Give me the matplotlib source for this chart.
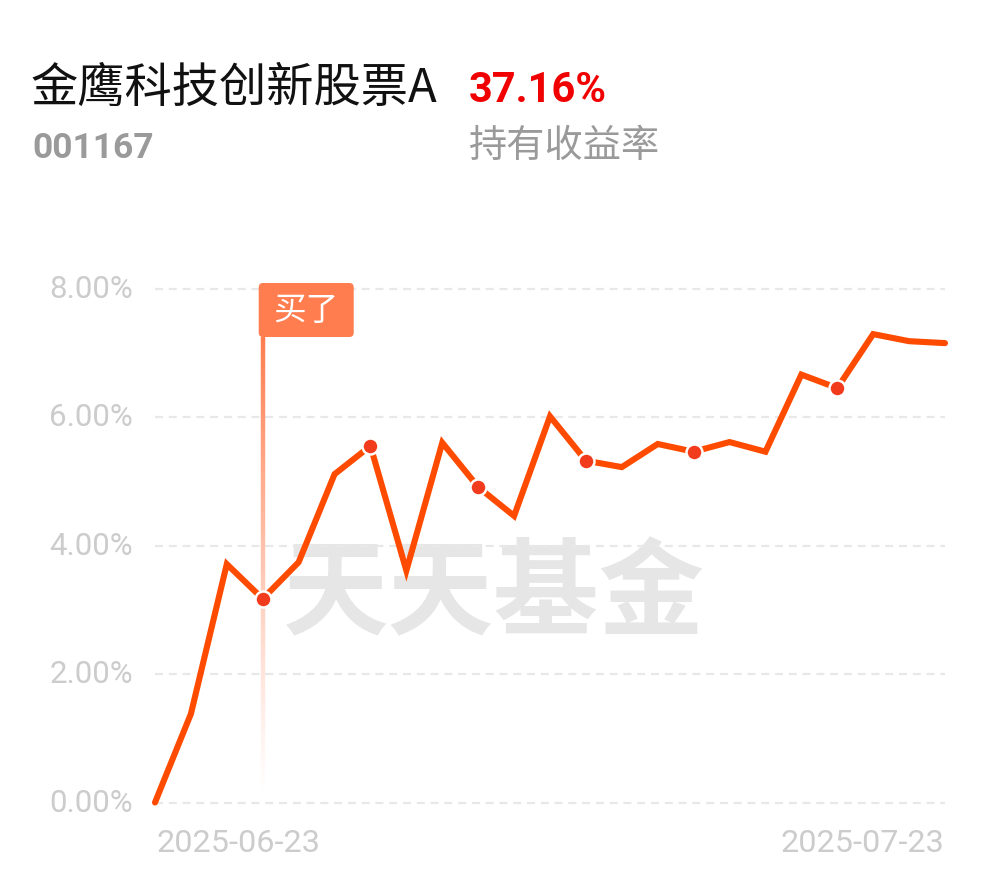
import matplotlib
matplotlib.use("Agg")
import matplotlib.pyplot as plt
import numpy as np
from matplotlib.patches import FancyBboxPatch
from matplotlib.collections import LineCollection

# ---------------- data ----------------
fund_name = "金鹰科技创新股票A"
fund_code = "001167"
hold_return = "37.16%"
hold_label = "持有收益率"
start_label = "2025-06-23"
end_label = "2025-07-23"
returns = [0.00, 1.38, 3.71, 3.17, 3.74, 5.11, 5.55, 3.61, 5.60, 4.91, 4.46, 6.01,
           5.32, 5.22, 5.58, 5.46, 5.61, 5.46, 6.66, 6.45, 7.29, 7.18, 7.15]
marker_idx = [3, 6, 9, 12, 15, 19]
buy_idx = 3
buy_label = "买了"
y_ticks = [0, 2, 4, 6, 8]
y_tick_labels = ["0.00%", "2.00%", "4.00%", "6.00%", "8.00%"]
watermark = "天天基金"

CJK = ["Noto Sans CJK SC", "DejaVu Sans"]

W, H = 990, 878
fig = plt.figure(figsize=(W / 100, H / 100), dpi=100)
fig.patch.set_facecolor("white")

def fx(x):
    return x / W

def fy(y):
    return 1 - y / H

x0, x1 = 155, 945
y0, y8 = 803.5, 289.5
ax = fig.add_axes([fx(x0), fy(y0), (x1 - x0) / W, (y0 - y8) / H])
n = len(returns)
xs = np.arange(n)
ax.set_xlim(0, n - 1)
ax.set_ylim(0, 8)
ax.axis("off")

# grid
for t in y_ticks:
    ax.plot([0, n - 1], [t, t], color="#e8e8e8", lw=1.6, ls=(0, (3.6, 2.6)), zorder=1,
            clip_on=False)

# watermark (behind grid)
ax.text(fx(494), fy(596), watermark, transform=fig.transFigure, ha="center", va="center",
        fontsize=76, fontweight="bold", color="#e6e6e6", family=CJK, zorder=0.5)

# buy vertical gradient line
px_x = (x1 - x0) / (n - 1)
px_y = (y0 - y8) / 8
top_v = (y0 - 338) / px_y
bot_v = (y0 - 797) / px_y
ys = np.linspace(top_v, bot_v, 120)
segs = [[(buy_idx, ys[i]), (buy_idx, ys[i + 1])] for i in range(len(ys) - 1)]
alphas = np.linspace(1.0, 0.0, len(segs)) ** 1.2
cols = [(1.0, 0.49, 0.31, a) for a in alphas]
lc = LineCollection(segs, colors=cols, linewidths=3.2, zorder=2)
ax.add_collection(lc)

# flag
fl = buy_idx - 4 / px_x
fb = (y0 - 338) / px_y
fw = 95 / px_x
fh = 54 / px_y
flag = FancyBboxPatch((fl, fb), fw, fh, boxstyle="round,pad=0,rounding_size=0.12",
                      mutation_aspect=px_x / px_y, facecolor="#ff7d4f", edgecolor="none",
                      zorder=3, clip_on=False)
ax.add_patch(flag)
ax.text(fl + fw / 2, fb + fh / 2, buy_label, ha="center", va="center", fontsize=23.5,
        color="white", family=CJK, zorder=4)

# line
ax.plot(xs, returns, color="#ff4b00", lw=4.4, solid_joinstyle="miter",
        solid_capstyle="round", zorder=5, clip_on=False)
ax.plot(xs[marker_idx], np.array(returns)[marker_idx], ls="none", marker="o",
        markersize=11.5, markerfacecolor="#f23a1c", markeredgecolor="white",
        markeredgewidth=1.8, zorder=6, clip_on=False)

# y tick labels
for t, lab in zip(y_ticks, y_tick_labels):
    fig.text(fx(133), fy(y0 - t * px_y), lab, ha="right", va="center", fontsize=22.5,
             color="#cccccc", family="Roboto")

# date labels
fig.text(fx(156), fy(852), start_label, ha="left", va="baseline", fontsize=23.3,
         color="#cccccc", family="Roboto")
fig.text(fx(944), fy(852), end_label, ha="right", va="baseline", fontsize=23.3,
         color="#cccccc", family="Roboto")

# header
fig.text(fx(31), fy(102), fund_name, ha="left", va="baseline", fontsize=34,
         color="#111111", family=CJK)
fig.text(fx(469), fy(102), hold_return, ha="left", va="baseline", fontsize=30,
         fontweight="bold", color="#f00000", family="Roboto")
fig.text(fx(32), fy(158), fund_code, ha="left", va="baseline", fontsize=25.5,
         fontweight="bold", color="#9a9a9a", family="Roboto")
fig.text(fx(469), fy(157), hold_label, ha="left", va="baseline", fontsize=27.5,
         color="#9a9a9a", family=CJK)

fig.savefig("out.png", dpi=100, facecolor="white")
